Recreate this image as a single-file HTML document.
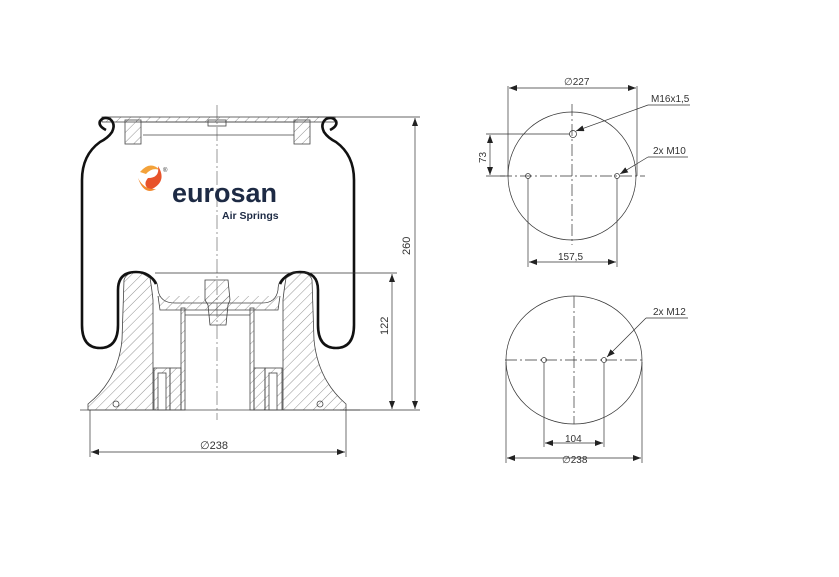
<!DOCTYPE html>
<html><head><style>
html,body{margin:0;padding:0;background:#fff;}
svg{display:block;}
text{font-family:"Liberation Sans",sans-serif;fill:#333;}
</style></head><body>
<svg width="839" height="577" viewBox="0 0 839 577" xmlns="http://www.w3.org/2000/svg">
<defs>
<pattern id="h" patternUnits="userSpaceOnUse" width="7" height="7" patternTransform="rotate(45)">
<line x1="0" y1="0" x2="0" y2="7" stroke="#666" stroke-width="0.7"/>
</pattern>
<marker id="a" markerWidth="8" markerHeight="6" refX="8" refY="3" orient="auto" markerUnits="userSpaceOnUse"><path d="M0,0 L8,3 L0,6z" fill="#222"/></marker>
<marker id="b" markerWidth="8" markerHeight="6" refX="0" refY="3" orient="auto" markerUnits="userSpaceOnUse"><path d="M8,0 L0,3 L8,6z" fill="#222"/></marker>
</defs>

<g stroke="#444" stroke-width="0.8" fill="none">
<rect x="102" y="117" width="233" height="5" fill="url(#h)"/>
<line x1="140" y1="122" x2="298" y2="122"/>
<line x1="143" y1="135" x2="294" y2="135"/>
<rect x="125" y="120" width="16" height="24" fill="url(#h)"/>
<rect x="294" y="120" width="16" height="24" fill="url(#h)"/>
<rect x="208" y="120" width="18" height="6"/>
<path d="M124,280 Q126,272 140,272 L150,278 Q152,290 153,300 L153,410 L88,410 L88,404 Q118,380 122,340 Z" fill="url(#h)"/>
<path d="M312,280 Q310,272 296,272 L286,278 Q284,290 283,300 L283,410 L346,410 L346,404 Q318,380 314,340 Z" fill="url(#h)"/>
<path d="M150,276 Q158,280 158,290 Q160,303 175,303 L262,303 Q276,303 278,290 Q278,280 286,276" />
<path d="M158,296 L160,310 L278,310 L280,296" fill="url(#h)"/>
<path d="M205,280 L228,280 L230,300 L228,305 L226,325 L210,325 L208,305 L205,300 Z" fill="url(#h)"/>
<rect x="181" y="308" width="4" height="102" fill="url(#h)"/>
<rect x="250" y="308" width="4" height="102" fill="url(#h)"/>
<line x1="185" y1="315" x2="250" y2="315"/>
<rect x="154" y="368" width="16" height="42" fill="url(#h)"/>
<rect x="158" y="373" width="8" height="37" fill="#fff"/>
<rect x="170" y="368" width="11" height="42" fill="url(#h)"/>
<rect x="254" y="368" width="11" height="42" fill="url(#h)"/>
<rect x="265" y="368" width="17" height="42" fill="url(#h)"/>
<rect x="269" y="373" width="8" height="37" fill="#fff"/>
<circle cx="116" cy="404" r="3"/><circle cx="320" cy="404" r="3"/>
<line x1="80" y1="410" x2="360" y2="410"/>
</g>
<path d="M106,130 Q98,126 100,121 Q104,116 110,119 Q116,124 112,132 Q108,138 100,142 Q82,155 82,180 L82,325 Q82,348 100,348 Q118,348 118,325 L118,290 Q118,272 136,272 Q150,272 156,284" fill="none" stroke="#111" stroke-width="2.6"/>
<path d="M330,130 Q338,126 336,121 Q332,116 326,119 Q320,124 324,132 Q328,138 336,142 Q354,155 354,180 L354,325 Q354,348 336,348 Q318,348 318,325 L318,290 Q318,272 300,272 Q286,272 280,284" fill="none" stroke="#111" stroke-width="2.6"/>
<line x1="217" y1="105" x2="217" y2="420" stroke="#555" stroke-width="0.6" stroke-dasharray="14,3,2,3"/>
<g stroke="#333" stroke-width="0.7">
<line x1="300" y1="117" x2="420" y2="117"/>
<line x1="340" y1="410" x2="420" y2="410"/>
<line x1="415" y1="118" x2="415" y2="409" marker-start="url(#b)" marker-end="url(#a)"/>
<line x1="155" y1="273" x2="397" y2="273"/>
<line x1="392" y1="274" x2="392" y2="409" marker-start="url(#b)" marker-end="url(#a)"/>
<line x1="90" y1="410" x2="90" y2="457"/>
<line x1="346" y1="410" x2="346" y2="457"/>
<line x1="91" y1="452" x2="345" y2="452" marker-start="url(#b)" marker-end="url(#a)"/>
</g>
<text x="410" y="255" font-size="11" transform="rotate(-90 410 255)">260</text>
<text x="388" y="335" font-size="11" transform="rotate(-90 388 335)">122</text>
<text x="200" y="449" font-size="11">∅238</text>
<g>
<path d="M140,172 Q150,160 160,170 Q152,167 146,174 Z" fill="#f3a23a"/>
<path d="M148,178 Q160,178 158,166 Q168,182 150,190 Q142,185 148,178 Z" fill="#e8532a"/>
<path d="M138,178 Q144,190 156,189 Q144,196 138,178 Z" fill="#f28a2f"/>
</g>
<text x="163" y="172" font-size="6">®</text>
<text x="172" y="202" font-size="27" font-weight="bold" style="fill:#1d2a44">eurosan</text>
<text x="222" y="219" font-size="10.5" font-weight="bold" style="fill:#1d2a44">Air Springs</text>

<g stroke="#333" stroke-width="0.7" fill="none">
<circle cx="572" cy="176" r="64"/>
<line x1="572" y1="104" x2="572" y2="245" stroke-dasharray="12,3,2,3"/>
<line x1="500" y1="176" x2="645" y2="176" stroke-dasharray="12,3,2,3"/>
<circle cx="573" cy="134" r="3.5"/><circle cx="528" cy="176" r="2.5"/><circle cx="617" cy="176" r="2.5"/>
<line x1="508" y1="86" x2="508" y2="176"/><line x1="637" y1="86" x2="637" y2="176"/>
<line x1="509" y1="88" x2="636" y2="88" marker-start="url(#b)" marker-end="url(#a)"/>
<line x1="528" y1="178" x2="528" y2="267"/><line x1="617" y1="178" x2="617" y2="267"/>
<line x1="529" y1="262" x2="616" y2="262" marker-start="url(#b)" marker-end="url(#a)"/>
<line x1="486" y1="134" x2="570" y2="134"/><line x1="486" y1="176" x2="505" y2="176"/>
<line x1="490" y1="135" x2="490" y2="175" marker-start="url(#b)" marker-end="url(#a)"/>
<line x1="690" y1="105" x2="648" y2="105"/><line x1="648" y1="105" x2="576" y2="131" marker-end="url(#a)"/>
<line x1="688" y1="157" x2="648" y2="157"/><line x1="648" y1="157" x2="620" y2="174" marker-end="url(#a)"/>
</g>
<text x="564" y="85" font-size="10">∅227</text>
<text x="651" y="102" font-size="10">M16x1,5</text>
<text x="653" y="154" font-size="10">2x M10</text>
<text x="558" y="260" font-size="10">157,5</text>
<text x="486" y="163" font-size="10" transform="rotate(-90 486 163)">73</text>

<g stroke="#333" stroke-width="0.7" fill="none">
<ellipse cx="574" cy="360" rx="68" ry="64"/>
<line x1="574" y1="296" x2="574" y2="424" stroke-dasharray="12,3,2,3"/>
<line x1="505" y1="360" x2="643" y2="360" stroke-dasharray="12,3,2,3"/>
<circle cx="544" cy="360" r="2.5"/><circle cx="604" cy="360" r="2.5"/>
<line x1="544" y1="363" x2="544" y2="447"/><line x1="604" y1="363" x2="604" y2="447"/>
<line x1="545" y1="443" x2="603" y2="443" marker-start="url(#b)" marker-end="url(#a)"/>
<line x1="506" y1="362" x2="506" y2="463"/><line x1="642" y1="362" x2="642" y2="463"/>
<line x1="507" y1="458" x2="641" y2="458" marker-start="url(#b)" marker-end="url(#a)"/>
<line x1="688" y1="318" x2="646" y2="318"/><line x1="646" y1="318" x2="607" y2="357" marker-end="url(#a)"/>
</g>
<text x="565" y="442" font-size="10">104</text>
<text x="562" y="463" font-size="10">∅238</text>
<text x="653" y="315" font-size="10">2x M12</text>
</svg>
</body></html>
